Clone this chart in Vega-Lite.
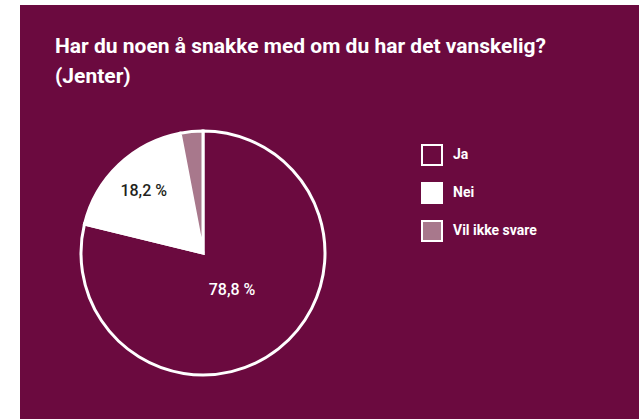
{
  "$schema": "https://vega.github.io/schema/vega-lite/v6.json",
  "background": "white",
  "padding": {"left": 20, "top": 5, "right": 0, "bottom": 0},
  "config": {
    "view": {"fill": "#6b0a3f", "stroke": "#6b0a3f", "strokeWidth": 0},
    "concat": {"spacing": 0},
    "font": "Roboto"
  },
  "spacing": 0,
  "vconcat": [
    {
      "width": 619,
      "height": 82,
      "view": {"fill": "#6b0a3f", "stroke": "#6b0a3f", "strokeWidth": 0},
      "data": {"values": [{"id": "tittel"}]},
      "mark": {
        "type": "text",
        "text": ["Har du noen å snakke med om du har det vanskelig?", "(Jenter)"],
        "align": "left",
        "baseline": "top",
        "lineHeight": 30,
        "fontSize": 21,
        "fontWeight": "bold",
        "color": "white",
        "font": "Roboto"
      },
      "encoding": {"x": {"value": 35}, "y": {"value": 31}}
    },
    {
      "spacing": 0,
      "hconcat": [
        {
          "width": 366,
          "height": 332,
          "view": {"fill": "#6b0a3f", "stroke": "#6b0a3f", "strokeWidth": 0},
          "data": {
            "values": [
              {"svar": "Ja", "andel": 78.8, "label": "78,8 %"},
              {"svar": "Nei", "andel": 18.2, "label": "18,2 %"},
              {"svar": "Vil ikke svare", "andel": 3.0, "label": "3,0 %"}
            ]
          },
          "encoding": {
            "theta": {"field": "andel", "type": "quantitative", "stack": true},
            "order": {"field": "svar", "type": "ordinal", "sort": "ascending"},
            "color": {
              "field": "svar",
              "type": "nominal",
              "scale": {
                "domain": ["Ja", "Nei", "Vil ikke svare"],
                "range": ["#6b0a3f", "#ffffff", "#a8788c"]
              },
              "legend": {
                "orient": "none",
                "legendX": 401,
                "legendY": 139,
                "title": null,
                "symbolType": "square",
                "symbolSize": 400,
                "symbolStrokeColor": "white",
                "symbolStrokeWidth": 2,
                "symbolOpacity": 1,
                "labelColor": "white",
                "labelFontSize": 14,
                "labelFontWeight": "bold",
                "labelFont": "Roboto",
                "rowPadding": 10,
                "labelOffset": 10,
                "padding": 0
              }
            }
          },
          "layer": [
            {"mark": {"type": "arc", "outerRadius": 122, "stroke": "white", "strokeWidth": 3}},
            {
              "mark": {"type": "text", "radius": 47, "fontSize": 16, "fontWeight": 500, "font": "Roboto"},
              "encoding": {
                "detail": {"field": "svar"},
                "color": {"value": "white"},
                "text": {"condition": {"test": "datum.svar === 'Ja'", "field": "label"}, "value": ""}
              }
            },
            {
              "mark": {"type": "text", "radius": 86, "fontSize": 16, "fontWeight": 500, "font": "Roboto"},
              "encoding": {
                "detail": {"field": "svar"},
                "color": {"value": "#231f20"},
                "text": {"condition": {"test": "datum.svar === 'Nei'", "field": "label"}, "value": ""}
              }
            }
          ]
        },
        {
          "width": 253,
          "height": 332,
          "view": {"fill": "#6b0a3f", "stroke": "#6b0a3f", "strokeWidth": 0},
          "data": {"values": []},
          "mark": "rect"
        }
      ]
    }
  ]
}
